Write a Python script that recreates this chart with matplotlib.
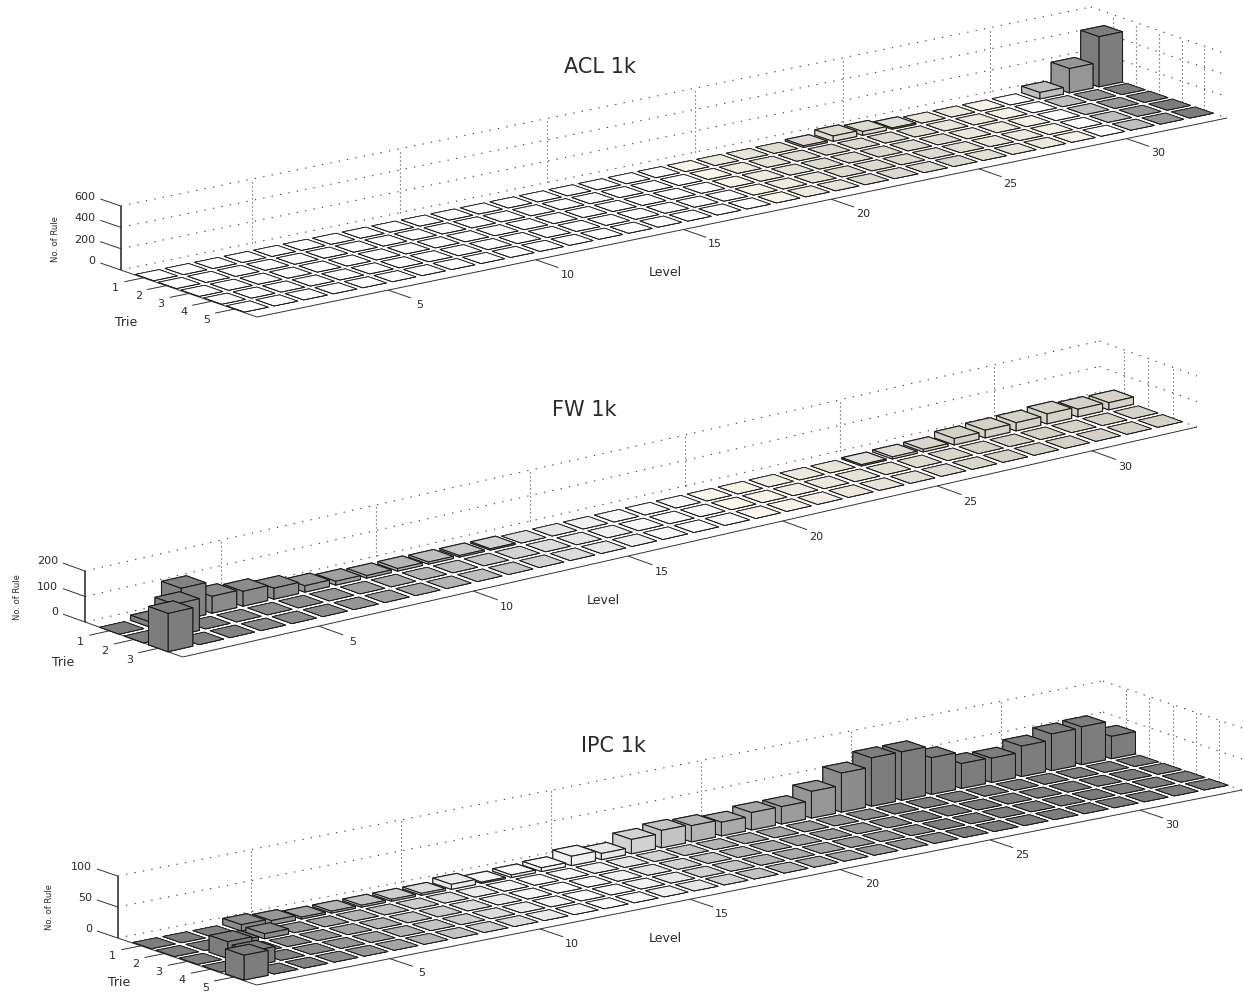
import numpy as np
import matplotlib
matplotlib.use("Agg")
import matplotlib.pyplot as plt
from mpl_toolkits.mplot3d.art3d import Line3DCollection

W, H = 1244, 993
LEVELS = list(range(1, 34))
LEVEL_TICKS = [5, 10, 15, 20, 25, 30]

# ---- values: {trie: {level: rules}}; everything else is 0
acl_values = {1: {23: 15, 24: 50, 25: 35, 26: 12, 31: 60, 32: 228, 33: 470}}
fw_values = {
    1: {2: 20, 3: 125, 4: 66, 5: 58, 6: 43, 7: 25, 8: 15, 9: 10, 10: 10, 11: 8, 12: 6, 13: 5,
        25: 5, 26: 8, 27: 10, 28: 25, 29: 30, 30: 32, 31: 39, 32: 30, 33: 28},
    2: {2: 124},
    3: {1: 150},
}
ipc_values = {
    1: {4: 10, 5: 7, 6: 3, 7: 3, 8: 3, 9: 3, 10: 3, 11: 8, 12: 2, 13: 4, 14: 6, 15: 15, 16: 10,
        17: 23, 18: 28, 19: 26, 20: 22, 21: 28, 22: 28, 23: 43, 24: 63, 25: 78, 26: 78, 27: 59,
        28: 40, 29: 39, 30: 49, 31: 59, 32: 61, 33: 36},
    2: {3: 5, 4: 8},
    3: {2: 27},
    4: {2: 24},
    5: {1: 40},
}

# ---- column shades per level
acl_gray = [255]*18 + [248, 238, 230, 222, 220, 220, 220, 225, 232, 236, 245, 255, 190, 150, 125]
fw_gray = [125, 128, 130, 138, 140, 142, 150, 160, 170, 180, 190, 200, 210, 220, 230, 240, 248, 252,
           250, 250, 246, 242, 236, 230, 226, 222, 216, 212, 212, 212, 212, 212, 212]
ipc_gray = [125, 125, 130, 140, 150, 165, 180, 195, 205, 220, 235, 245, 252, 250, 240, 230, 210, 195,
            180, 170, 165, 155, 150, 140, 125, 125, 125, 125, 125, 125, 125, 125, 125]
acl_warm_from, acl_warm_to = 19, 29
fw_warm_from, fw_warm_to = 20, 33
ipc_warm_from, ipc_warm_to = 0, 0

panels = [
    dict(title="ACL 1k", values=acl_values, gray=acl_gray, warm=(acl_warm_from, acl_warm_to),
         tries=[1, 2, 3, 4, 5], tlim=(0, 6), llim=(0.56, 33.4), zticks=[0, 200, 400, 600],
         left=(120.7, 270), front=(257, 317), right=(1227, 118), ztop=206,
         title_xy=(600, 67), ylab_xy=(55, 239), xlab_xy=(665, 272), tlab_xy=(126, 322)),
    dict(title="FW 1k", values=fw_values, gray=fw_gray, warm=(fw_warm_from, fw_warm_to),
         tries=[1, 2, 3], tlim=(0, 4), llim=(0.6, 33.4), zticks=[0, 100, 200],
         left=(85, 622), front=(182.7, 657), right=(1197, 427), ztop=571,
         title_xy=(584, 410), ylab_xy=(17, 597), xlab_xy=(603, 601), tlab_xy=(63, 662)),
    dict(title="IPC 1k", values=ipc_values, gray=ipc_gray, warm=(ipc_warm_from, ipc_warm_to),
         tries=[1, 2, 3, 4, 5], tlim=(0, 6), llim=(0.56, 33.4), zticks=[0, 50, 100],
         left=(117.7, 938), front=(256.7, 985), right=(1242, 790), ztop=876,
         title_xy=(613, 746), ylab_xy=(50, 907), xlab_xy=(665, 938), tlab_xy=(119, 982)),
]

FONT = "DejaVu Sans"
TXT = "#2a2a2a"
fig = plt.figure(figsize=(W/100, H/100), dpi=100, facecolor="white")


def shade(g, warm):
    return (g/255, (g*0.985)/255, (g*0.945)/255) if warm else (g/255, g/255, g/255)


def pxtext(x, y, s, ha="center", **kw):
    fig.text(x/W, 1-y/H, s, family=FONT, color=TXT, ha=ha, va="center", **kw)


for p in panels:
    Lmin, Lmax = p["llim"]
    Tmin, Tmax = p["tlim"]
    zmax = p["zticks"][-1]
    lx = (p["right"][0]-p["front"][0])/(Lmax-Lmin)
    ly = (p["right"][1]-p["front"][1])/(Lmax-Lmin)
    tx = (p["front"][0]-p["left"][0])/(Tmax-Tmin)
    ty = (p["front"][1]-p["left"][1])/(Tmax-Tmin)
    zy = (p["ztop"]-p["left"][1])/zmax
    Ox = p["left"][0]-Lmin*lx-Tmin*tx
    Oy = p["left"][1]-Lmin*ly-Tmin*ty
    M = np.array([[lx, tx, 0, Ox],
                  [ly, ty, zy, Oy],
                  [1.0, -1.0, -1.0/zmax, 0],
                  [0, 0, 0, 1.0]])

    ax = fig.add_axes([0, 0, 1, 1], projection="3d", computed_zorder=False)
    ax.get_proj = (lambda m: (lambda: m))(M)
    ax.apply_aspect = lambda position=None: None
    ax.set_axis_off()
    ax.patch.set_visible(False)
    ax.set_xticks([])
    ax.set_yticks([])
    ax.set_zticks([])

    # walls (dotted)
    level_dots, upright_dots = [], []
    for z in p["zticks"]:
        level_dots.append([(Lmin, Tmin, z), (Lmax, Tmin, z)])
        level_dots.append([(Lmax, Tmin, z), (Lmax, Tmax, z)])
    for L in LEVEL_TICKS:
        upright_dots.append([(L, Tmin, 0), (L, Tmin, zmax)])
    for T in p["tries"]:
        upright_dots.append([(Lmax, T, 0), (Lmax, T, zmax)])
    ax.add_collection3d(Line3DCollection(level_dots, colors="#444444", linewidths=0.8,
                                         linestyles=[(0, (1.2, 6.5))], zorder=1), autolim=False)
    ax.add_collection3d(Line3DCollection(upright_dots, colors="#444444", linewidths=0.8,
                                         linestyles=[(0, (1, 2.6))], zorder=1), autolim=False)

    # axes and tick marks (solid)
    solid = [[(Lmin, Tmax, 0), (Lmax, Tmax, 0)],
             [(Lmin, Tmin, 0), (Lmin, Tmax, 0)]]

    def label(L, T, z, s, dx, dy, ha="center"):
        x, y, _, _ = M @ np.array([L, T, z, 1.0])
        pxtext(x+dx, y+dy, s, ha=ha, fontsize=8)

    for L in LEVEL_TICKS:
        solid.append([(L, Tmax, 0), (L, Tmax+1.0, 0)])
        label(L, Tmax+1.0, 0, str(L), 9, 7)
    for T in p["tries"]:
        solid.append([(Lmin, T, 0), (Lmin-0.65, T, 0)])
        label(Lmin-0.65, T, 0, str(T), -8.6, 6.7)
    for z in p["zticks"]:
        solid.append([(Lmin, Tmin, z), (Lmin, Tmin-0.9, z)])
        label(Lmin, Tmin-0.9, z, str(z), -5, -2, ha="right")
    ax.add_collection3d(Line3DCollection(solid, colors="#333333", linewidths=0.7, zorder=1),
                        autolim=False)
    ax.add_collection3d(Line3DCollection([[(Lmin, Tmin, 0), (Lmin, Tmin, zmax)]], colors="#333333",
                                         linewidths=1.2, zorder=1), autolim=False)

    # bars: far ones first
    w = 0.8
    for L in LEVELS:
        for T in p["tries"]:
            h = p["values"].get(T, {}).get(L, 0)
            warm = p["warm"][0] <= L <= p["warm"][1]
            ax.bar3d(L-w/2, T-w/2, 0, w, w, h, shade=False, color=shade(p["gray"][L-1], warm),
                     edgecolor="#1a1a1a", linewidth=0.75 if h else 0.55,
                     zorder=10+(33-L)*10+T)

    ax.viewLim.intervalx = (0, W)
    ax.viewLim.intervaly = (H, 0)

    pxtext(*p["title_xy"], p["title"], fontsize=15)
    pxtext(*p["ylab_xy"], "No. of Rule", fontsize=6, rotation=90)
    pxtext(*p["xlab_xy"], "Level", fontsize=9)
    pxtext(*p["tlab_xy"], "Trie", fontsize=9)

fig.savefig("out.png", dpi=100, facecolor="white")
